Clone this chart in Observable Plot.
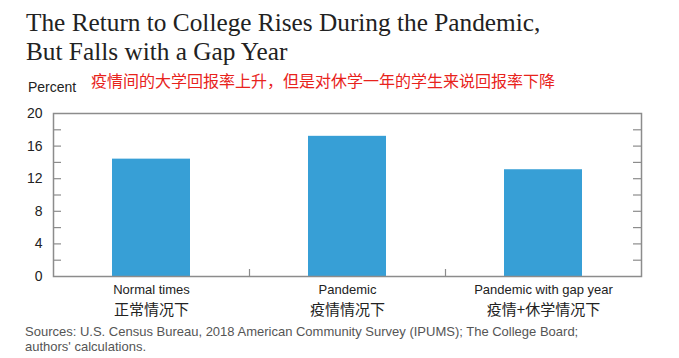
<!DOCTYPE html>
<html><head><meta charset="utf-8">
<script src="https://cdn.jsdelivr.net/npm/d3@7"></script>
<script src="https://cdn.jsdelivr.net/npm/@observablehq/plot@0.6"></script>
<style>
body{margin:0;background:#fff;width:679px;height:358px;position:relative;overflow:hidden;font-family:"Liberation Sans",Arial,sans-serif}
.t{position:absolute;white-space:nowrap}
#chart{position:absolute;left:0;top:100px}
</style></head><body>
<div class="t" style="left:26px;top:8px;font-family:'Liberation Serif',serif;font-size:25.3px;line-height:29px;color:#222">The Return to College Rises During the Pandemic,<br>But Falls with a Gap Year</div>
<div class="t" style="left:28px;top:79px;font-size:14px;line-height:16px;color:#222">Percent</div>
<div class="t" style="left:91px;top:71px;font-family:'Noto Sans CJK SC',sans-serif;font-size:16px;line-height:18px;color:#e8231c">疫情间的大学回报率上升，但是对休学一年的学生来说回报率下降</div>
<div id="chart"></div>
<div class="t" style="left:25px;top:324px;font-size:13px;line-height:15px;color:#555">Sources: U.S. Census Bureau, 2018 American Community Survey (IPUMS); The College Board;<br>authors' calculations.</div>
<script>
const categories = ["Normal times", "Pandemic", "Pandemic with gap year"];
const categoriesZh = ["正常情况下", "疫情情况下", "疫情+休学情况下"];
const values = [14.4, 17.2, 13.1];
const yTickLabels = [0, 4, 8, 12, 16, 20];
const minorTicks = [2, 4, 6, 8, 10, 12, 14, 16, 18];

const W = 679, H = 226, mT = 13, mB = 50, mL = 53, mR = 38;
const plotW = W - mL - mR, plotH = H - mT - mB;
const step = plotW / categories.length;
const data = categories.map((c, i) => ({cat: c, zh: categoriesZh[i], value: values[i]}));
const gray = "#8c8c8c";

const chart = Plot.plot({
  width: W, height: H, marginTop: mT, marginBottom: mB, marginLeft: mL, marginRight: mR,
  style: {fontFamily: "'Liberation Sans', Arial, sans-serif", background: "#fff"},
  x: {domain: categories, paddingInner: 0.6, paddingOuter: 0.3, axis: null},
  y: {domain: [0, 20], axis: null},
  marks: [
    Plot.barY(data, {x: "cat", y: "value", fill: "#379fd6"}),
    Plot.ruleY(minorTicks, {y: d => d, insetRight: plotW - 8, stroke: gray, strokeWidth: 1.2}),
    Plot.ruleY(minorTicks, {y: d => d, insetLeft: plotW - 8, stroke: gray, strokeWidth: 1.2}),
    Plot.ruleX(categories.slice(0, -1), {x: d => d, dx: step / 2, insetTop: plotH - 7, stroke: gray, strokeWidth: 1.2}),
    Plot.frame({stroke: gray, strokeWidth: 1.5}),
    Plot.text(yTickLabels, {y: d => d, frameAnchor: "left", dx: -11, textAnchor: "end", fontSize: 14, fill: "#222"}),
    Plot.text(data, {x: "cat", text: "cat", frameAnchor: "bottom", dy: 17, fontSize: 13, fill: "#222"}),
    Plot.text(data, {x: "cat", text: "zh", frameAnchor: "bottom", dy: 38, fontSize: 15, fill: "#222", fontFamily: "'Noto Sans CJK SC', sans-serif"})
  ]
});
document.getElementById("chart").appendChild(chart);
</script>
</body></html>
